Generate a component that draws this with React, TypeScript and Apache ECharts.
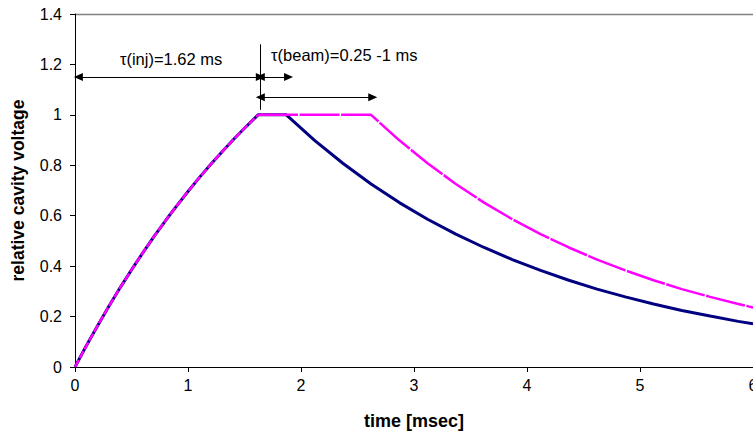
import React, { useEffect, useRef } from "react";
import * as echarts from "echarts";

// Filling (identical for both pulses), time in ms
const riseTime = [0, 0.1, 0.2, 0.3, 0.4, 0.5, 0.6, 0.7, 0.8, 0.9, 1.0, 1.1, 1.2, 1.3, 1.4, 1.5, 1.6, 1.62];
const riseVolt = [0, 0.084, 0.164, 0.241, 0.315, 0.385, 0.453, 0.518, 0.58, 0.639, 0.696, 0.751, 0.803, 0.853, 0.901, 0.947, 0.991, 1.0];

// Short beam pulse (0.25 ms) then decay
const shortTime = [1.87, 2.12, 2.37, 2.62, 2.87, 3.12, 3.37, 3.62, 3.87, 4.12, 4.37, 4.62, 4.87, 5.12, 5.37, 5.62, 5.87, 6.0];
const shortVolt = [1.0, 0.899, 0.808, 0.726, 0.652, 0.586, 0.527, 0.474, 0.426, 0.383, 0.344, 0.309, 0.278, 0.25, 0.224, 0.202, 0.181, 0.171];

// Long beam pulse (1 ms) then decay
const longTime = [2.62, 2.87, 3.12, 3.37, 3.62, 3.87, 4.12, 4.37, 4.62, 4.87, 5.12, 5.37, 5.62, 5.87, 6.0];
const longVolt = [1.0, 0.899, 0.808, 0.726, 0.652, 0.586, 0.527, 0.474, 0.426, 0.383, 0.344, 0.309, 0.278, 0.25, 0.236];

const xTicks = [0, 1, 2, 3, 4, 5, 6];
const yTicks = [0, 0.2, 0.4, 0.6, 0.8, 1, 1.2, 1.4];

// annotation anchors in data units
const injStart = 0.03;
const injEnd = 1.64;
const shortBeamEnd = 1.89;
const longBeamEnd = 2.635;
const arrowRow1 = 1.15;
const arrowRow2 = 1.07;
const markerTop = 1.28;
const markerBottom = 1.02;
const injLabel = "τ(inj)=1.62 ms";
const beamLabel = "τ(beam)=0.25 -1 ms";

const FONT = "'Liberation Sans', Arial, sans-serif";

function pairs(t: number[], v: number[]) {
  return t.map((x, i) => [x, v[i]]);
}

export default function App() {
  const ref = useRef<HTMLDivElement>(null);
  useEffect(() => {
    if (!ref.current) return;
    const chart = echarts.init(ref.current, undefined, { renderer: "svg" });
    const rise = pairs(riseTime, riseVolt);
    const navyData = [...rise, ...pairs(shortTime, shortVolt)];
    const magentaTail = [rise[rise.length - 1], ...pairs(longTime, longVolt)];
    const arrowSym = ["triangle", "triangle"];
    chart.setOption({
      animation: false,
      textStyle: { fontFamily: FONT },
      grid: { left: 75, right: 0, top: 14, bottom: 65, containLabel: false, outerBoundsMode: "none" },
      xAxis: {
        type: "value",
        min: xTicks[0],
        max: xTicks[xTicks.length - 1],
        interval: 1,
        name: "time [msec]",
        nameLocation: "middle",
        nameGap: 45,
        nameTextStyle: { fontFamily: FONT, fontSize: 18, fontWeight: "bold", color: "#000" },
        axisLine: { show: true, lineStyle: { color: "#000", width: 1 } },
        axisTick: { show: true, length: 5, lineStyle: { color: "#000" } },
        axisLabel: { fontFamily: FONT, fontSize: 16, color: "#000", margin: 10, showMaxLabel: true, hideOverlap: false },
        splitLine: { show: false },
      },
      yAxis: {
        type: "value",
        min: yTicks[0],
        max: yTicks[yTicks.length - 1],
        interval: 0.2,
        name: "relative cavity voltage",
        nameLocation: "middle",
        nameGap: 48,
        nameRotate: 90,
        nameTextStyle: { fontFamily: FONT, fontSize: 17.5, fontWeight: "bold", color: "#000" },
        axisLine: { show: true, lineStyle: { color: "#000", width: 1 } },
        axisTick: { show: true, length: 5, lineStyle: { color: "#000" } },
        axisLabel: { fontFamily: FONT, fontSize: 16, color: "#000", margin: 13 },
        splitLine: { show: false },
      },
      series: [
        {
          type: "line",
          data: navyData,
          showSymbol: false,
          lineStyle: { color: "#000080", width: 3 },
          itemStyle: { color: "#000080" },
          z: 2,
        },
        {
          type: "line",
          data: rise,
          showSymbol: false,
          lineStyle: { color: "#FF00FF", width: 2.5, type: [8, 2] },
          itemStyle: { color: "#FF00FF" },
          z: 3,
        },
        {
          type: "line",
          data: magentaTail,
          showSymbol: false,
          lineStyle: { color: "#FF00FF", width: 2.5, type: [40, 1.5] },
          itemStyle: { color: "#FF00FF" },
          z: 3,
        },
        {
          type: "line",
          data: [],
          markLine: {
            silent: true,
            animation: false,
            symbol: arrowSym,
            symbolSize: [8, 9],
            label: { show: false },
            lineStyle: { color: "#000", width: 1, type: "solid" },
            emphasis: { disabled: true },
            data: [
              [{ coord: [injStart, arrowRow1] }, { coord: [injEnd, arrowRow1] }],
              [{ coord: [injEnd, arrowRow1] }, { coord: [shortBeamEnd, arrowRow1] }],
              [{ coord: [injEnd, arrowRow2] }, { coord: [longBeamEnd, arrowRow2] }],
            ],
          },
          z: 4,
        },
        {
          type: "line",
          data: [],
          markLine: {
            silent: true,
            animation: false,
            symbol: ["none", "none"],
            label: { show: false },
            lineStyle: { color: "#000", width: 1, type: "solid" },
            emphasis: { disabled: true },
            data: [[{ coord: [injEnd, markerTop] }, { coord: [injEnd, markerBottom] }]],
          },
          z: 4,
        },
      ],
    });

    const p = (x: number, y: number) => chart.convertToPixel({ gridIndex: 0 }, [x, y]) as number[];
    const tl = p(xTicks[0], yTicks[yTicks.length - 1]);
    const tr = p(xTicks[xTicks.length - 1], yTicks[yTicks.length - 1]);
    const injPos = p(0.85, 1.222);
    const beamPos = p(1.735, 1.238);
    chart.setOption({
      graphic: [
        {
          type: "line",
          shape: { x1: tl[0], y1: Math.round(tl[1]) + 0.5, x2: tr[0], y2: Math.round(tr[1]) + 0.5 },
          style: { stroke: "#808080", lineWidth: 1.5 },
          silent: true,
        },
        {
          type: "text",
          x: injPos[0],
          y: injPos[1],
          style: {
            text: injLabel,
            fontFamily: FONT,
            fontSize: 16.5,
            fill: "#000",
            align: "center",
            verticalAlign: "middle",
          },
        },
        {
          type: "text",
          x: beamPos[0],
          y: beamPos[1],
          style: {
            text: beamLabel,
            fontFamily: FONT,
            fontSize: 16.5,
            fill: "#000",
            align: "left",
            verticalAlign: "middle",
          },
        },
      ],
    });
    return () => chart.dispose();
  }, []);
  return (
    <div
      ref={ref}
      style={{ position: "absolute", left: 0, top: 0, width: 753, height: 432 }}
    />
  );
}
